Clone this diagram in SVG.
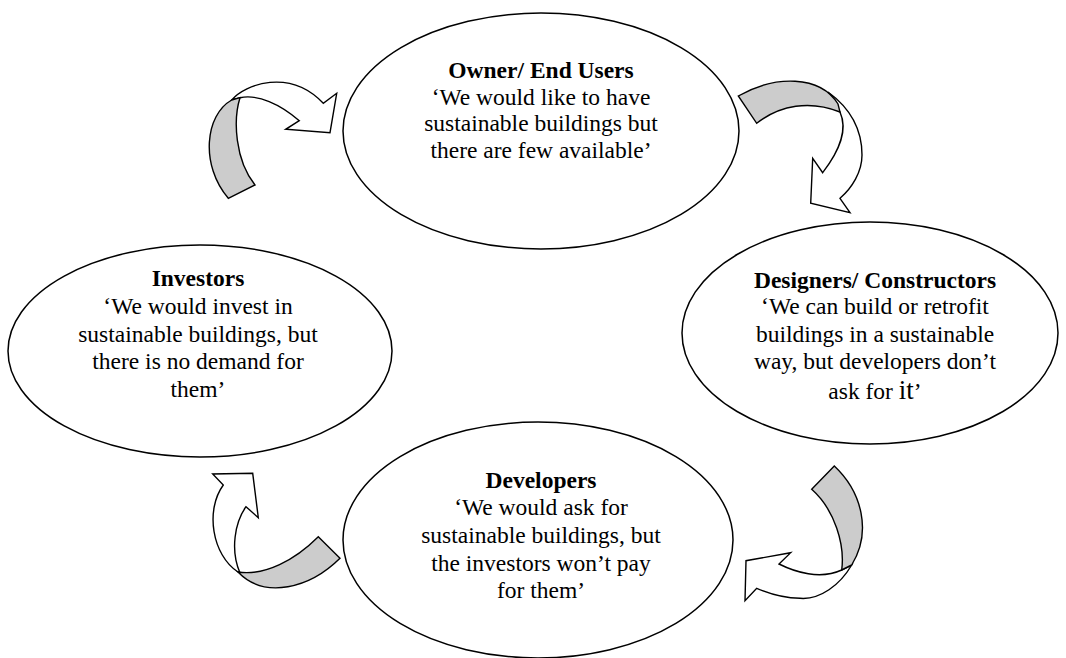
<svg xmlns="http://www.w3.org/2000/svg" width="1066" height="658" viewBox="0 0 1066 658">
<style>
.node{fill:#fff;stroke:#000;stroke-width:1.5}
.t{font-family:"Liberation Serif","Times New Roman",serif;font-size:23.5px;fill:#000;text-anchor:middle}
.b{font-weight:bold}
.arr{fill:#fff;stroke:#000;stroke-width:1.4;stroke-linejoin:miter}
.band{fill:#cccccc;stroke:#000;stroke-width:1.4}
</style>
<rect width="1066" height="658" fill="#fff"/>
<g id="connectors">
  <g id="arrow-investors-owner">
    <path class="arr" d="M231.7,100 C245,84 290,68 323.3,103.3 L336.7,93.3 L330,132.7 L285.7,129.3 L299.3,120.7 C280,104 258,94 240,97.7 Z"/>
    <path class="band" d="M231.7,100 C205,115 200,165 228.3,198.3 L255,185 C235,160 233,120 240,97.7 Z"/>
  </g>
  <g id="arrow-owner-designers">
    <path class="arr" d="M828,92 C850,108 862,130 862,155 C862,172 852,188 840,198.3 L850,212.7 L810.7,203.3 L812.7,158.3 L822.7,172.7 C840,150 848,130 840,112 Z"/>
    <path class="band" d="M738.3,96 C775,75 820,75 838,104 L840,112 C810,100 780,105 756.7,123.3 Z"/>
  </g>
  <g id="arrow-designers-developers">
    <path class="arr" d="M851.7,565 C840,585 820,600 800,598.3 C785,598 770,594 756.7,588.3 L745,600.7 L746,560.7 L790.7,552.7 L779,564 C795,572 820,580 841.7,570 Z"/>
    <path class="band" d="M811.7,489.3 L834.3,466 C862,492 872,532 851.7,565 L841.7,570 C845,545 835,510 811.7,489.3 Z"/>
  </g>
  <g id="arrow-developers-investors">
    <path class="arr" d="M238,572 C212,555 205,510 223.3,485 L212.7,474 L252.7,473.3 L258.3,517.7 L246,506.7 C235,522 230,550 240,573 Z"/>
    <path class="band" d="M318.3,536.7 L340,558.3 C310,588 265,600 238,572 C265,576 295,560 318.3,536.7 Z"/>
  </g>
</g>
<g id="node-owner">
  <ellipse class="node" cx="541" cy="131" rx="198" ry="118"/>
  <text class="t b" x="541" y="78">Owner/ End Users</text>
  <text class="t" x="541" y="104.5">‘We would like to have</text>
  <text class="t" x="541" y="131">sustainable buildings but</text>
  <text class="t" x="541" y="157.5">there are few available’</text>
</g>
<g id="node-investors">
  <ellipse class="node" cx="200" cy="351" rx="192" ry="106"/>
  <text class="t b" x="198" y="286">Investors</text>
  <text class="t" x="198" y="314">‘We would invest in</text>
  <text class="t" x="198" y="341.5">sustainable buildings, but</text>
  <text class="t" x="198" y="369">there is no demand for</text>
  <text class="t" x="198" y="396.5">them’</text>
</g>
<g id="node-designers">
  <ellipse class="node" cx="870" cy="333" rx="188" ry="111"/>
  <text class="t b" x="875" y="287.5">Designers/ Constructors</text>
  <text class="t" x="875" y="314">‘We can build or retrofit</text>
  <text class="t" x="875" y="341.5">buildings in a sustainable</text>
  <text class="t" x="875" y="369">way, but developers don’t</text>
  <text class="t" x="875" y="399">ask for <tspan font-size="27px">it</tspan>’</text>
</g>
<g id="node-developers">
  <ellipse class="node" cx="538" cy="540" rx="195" ry="118"/>
  <text class="t b" x="541" y="488">Developers</text>
  <text class="t" x="541" y="515">‘We would ask for</text>
  <text class="t" x="541" y="543">sustainable buildings, but</text>
  <text class="t" x="541" y="570.5">the investors won’t pay</text>
  <text class="t" x="541" y="598">for them’</text>
</g>
</svg>
